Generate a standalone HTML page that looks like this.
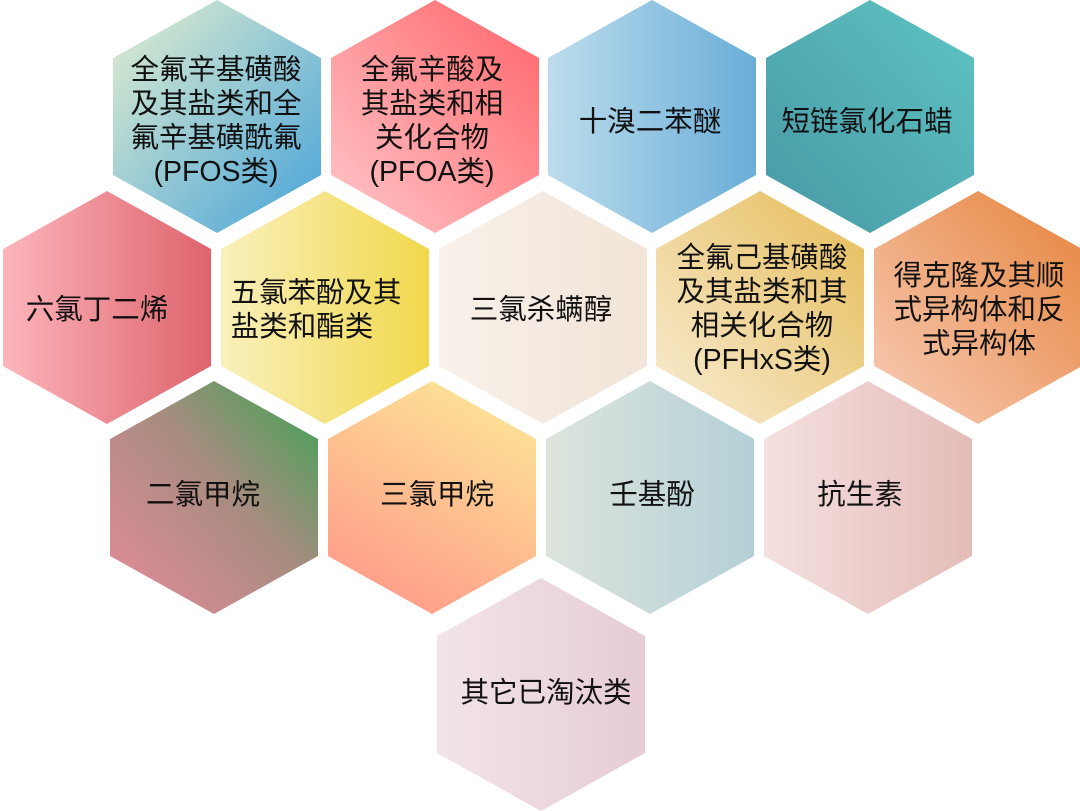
<!DOCTYPE html>
<html><head><meta charset="utf-8"><style>
html,body{margin:0;padding:0;background:#fff;}
svg{display:block;}
text{font-family:"Liberation Sans","Noto Sans CJK SC",sans-serif;font-size:28.5px;fill:#111;text-anchor:middle;dominant-baseline:central;}
</style></head><body>
<svg width="1080" height="811" viewBox="0 0 1080 811">
<defs>
<linearGradient id="g1" x1="0" y1="0" x2="1" y2="1"><stop offset="0" stop-color="#e4efcf"/><stop offset="1" stop-color="#45a2d9"/></linearGradient>
<linearGradient id="g2" x1="0" y1="1" x2="1" y2="0"><stop offset="0" stop-color="#ffc8cc"/><stop offset="1" stop-color="#ff6468"/></linearGradient>
<linearGradient id="g3" x1="0" y1="0" x2="1" y2="0"><stop offset="0" stop-color="#bcdcec"/><stop offset="1" stop-color="#6aaed8"/></linearGradient>
<linearGradient id="g4" x1="1" y1="0" x2="0" y2="1"><stop offset="0" stop-color="#5ec4c2"/><stop offset="1" stop-color="#4898a6"/></linearGradient>
<linearGradient id="g5" x1="0" y1="0" x2="1" y2="0"><stop offset="0" stop-color="#fdb4bc"/><stop offset="1" stop-color="#de646c"/></linearGradient>
<linearGradient id="g6" x1="0" y1="0" x2="1" y2="0"><stop offset="0" stop-color="#f9f0bc"/><stop offset="1" stop-color="#f1d84c"/></linearGradient>
<linearGradient id="g7" x1="0" y1="0" x2="1" y2="0"><stop offset="0" stop-color="#f8f1ea"/><stop offset="1" stop-color="#f2e4d8"/></linearGradient>
<linearGradient id="g8" x1="0" y1="1" x2="1" y2="0"><stop offset="0" stop-color="#f8ecd4"/><stop offset="1" stop-color="#e6bc58"/></linearGradient>
<linearGradient id="g9" x1="0" y1="1" x2="1" y2="0"><stop offset="0" stop-color="#f8ccb8"/><stop offset="1" stop-color="#e6843c"/></linearGradient>
<linearGradient id="g10" x1="1" y1="0" x2="0" y2="1"><stop offset="0" stop-color="#3aa452"/><stop offset="0.45" stop-color="#a88c80"/><stop offset="1" stop-color="#e68c9a"/></linearGradient>
<linearGradient id="g11" x1="0.7" y1="0" x2="0.2" y2="1"><stop offset="0" stop-color="#fde496"/><stop offset="1" stop-color="#ff9888"/></linearGradient>
<linearGradient id="g12" x1="0" y1="0" x2="1" y2="0"><stop offset="0" stop-color="#dde4dc"/><stop offset="1" stop-color="#b4d0d8"/></linearGradient>
<linearGradient id="g13" x1="0" y1="0" x2="1" y2="0"><stop offset="0" stop-color="#f4e0e0"/><stop offset="1" stop-color="#e4bcb8"/></linearGradient>
<linearGradient id="g14" x1="0" y1="0" x2="1" y2="0"><stop offset="0" stop-color="#f2e4e8"/><stop offset="1" stop-color="#e6ccd4"/></linearGradient>
<polygon id="h" points="104,0 208,58 208,175 104,233 0,175 0,58"/>
</defs>
<use href="#h" x="113" y="0" fill="url(#g1)"/>
<use href="#h" x="331" y="0" fill="url(#g2)"/>
<use href="#h" x="548" y="0" fill="url(#g3)"/>
<use href="#h" x="766" y="0" fill="url(#g4)"/>
<use href="#h" x="3" y="191" fill="url(#g5)"/>
<use href="#h" x="221" y="191" fill="url(#g6)"/>
<use href="#h" x="439" y="191" fill="url(#g7)"/>
<use href="#h" x="656" y="191" fill="url(#g8)"/>
<use href="#h" x="874" y="191" fill="url(#g9)"/>
<use href="#h" x="110" y="381" fill="url(#g10)"/>
<use href="#h" x="328" y="381" fill="url(#g11)"/>
<use href="#h" x="546" y="381" fill="url(#g12)"/>
<use href="#h" x="764" y="381" fill="url(#g13)"/>
<use href="#h" x="437" y="578" fill="url(#g14)"/>

<text x="216" y="70">全氟辛基磺酸</text>
<text x="216" y="104">及其盐类和全</text>
<text x="216" y="138">氟辛基磺酰氟</text>
<text x="216" y="172">(PFOS类)</text>
<text x="432" y="70">全氟辛酸及</text>
<text x="432" y="104">其盐类和相</text>
<text x="432" y="138">关化合物</text>
<text x="432" y="172">(PFOA类)</text>
<text x="650" y="122">十溴二苯醚</text>
<text x="867" y="122">短链氯化石蜡</text>
<text x="97" y="310">六氯丁二烯</text>
<text x="316" y="293">五氯苯酚及其</text>
<text x="302" y="327">盐类和酯类</text>
<text x="541" y="310">三氯杀螨醇</text>
<text x="762" y="258">全氟己基磺酸</text>
<text x="762" y="292">及其盐类和其</text>
<text x="762" y="326">相关化合物</text>
<text x="762" y="360">(PFHxS类)</text>
<text x="979" y="276">得克隆及其顺</text>
<text x="979" y="310">式异构体和反</text>
<text x="979" y="344">式异构体</text>
<text x="203" y="495">二氯甲烷</text>
<text x="437" y="495">三氯甲烷</text>
<text x="652" y="495">壬基酚</text>
<text x="860" y="495">抗生素</text>
<text x="546" y="693">其它已淘汰类</text>
</svg>
</body></html>
